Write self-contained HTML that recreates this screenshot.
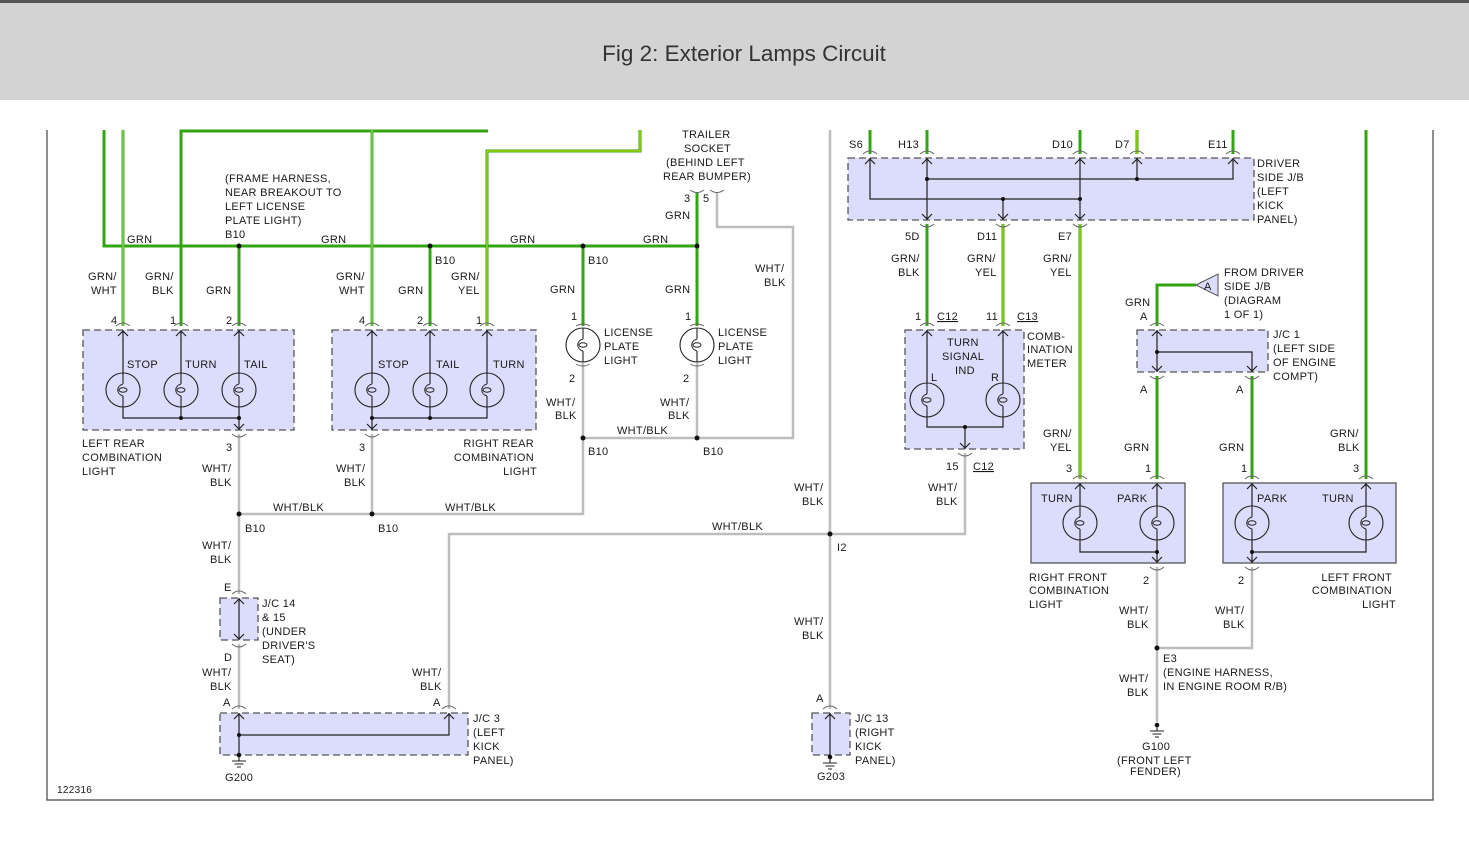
<!DOCTYPE html>
<html><head><meta charset="utf-8"><style>
html,body{margin:0;padding:0;background:#fff;width:1469px;height:849px;overflow:hidden}
svg{display:block}
text{font-family:"Liberation Sans",Arial,sans-serif;font-size:11px;fill:#1a1a1a;letter-spacing:0.3px}
.g{stroke:#33a514;stroke-width:3;fill:none}
.gw{stroke:#48b222;stroke-width:3;fill:none}
.y{stroke:#d8e800;stroke-width:1;fill:none}
.w{stroke:#bdbdbd;stroke-width:2.5;fill:none}
.bx{fill:#dcdcfc;stroke:#555;stroke-width:1.3;stroke-dasharray:7,4}
.bs{fill:#dcdcfc;stroke:#555;stroke-width:1.3}
.k{stroke:#222;stroke-width:1.2;fill:none}
.c{stroke:#666;stroke-width:1;fill:none}
</style></head><body>
<svg width="1469" height="849" viewBox="0 0 1469 849" xmlns="http://www.w3.org/2000/svg">
<defs>
<g id="bulb"><circle r="17" fill="none" stroke="#222" stroke-width="1.1"/><path d="M0,-17V-6M0,6V17" stroke="#222" stroke-width="1.1"/><path d="M0,-6 C-7,-4 -7,4 0,6" fill="none" stroke="#222"/><ellipse rx="4" ry="2.2" fill="none" stroke="#222"/></g>
<g id="ct"><path d="M-7,-4 Q0,-10 7,-4" class="c"/><path d="M-5,6 L0,1 L5,6" class="k"/></g>
<g id="cb"><path d="M-7,4 Q0,10 7,4" class="c"/><path d="M-5,-6 L0,-1 L5,-6" class="k"/></g>
<g id="gnd"><path d="M0,0V6M-7,6H7M-4.5,9H4.5M-2,12H2" stroke="#222" stroke-width="1.1"/><circle r="2.3" fill="#111"/></g>
</defs>
<rect x="0" y="0" width="1469" height="100" fill="#d3d3d3"/>
<rect x="0" y="0" width="1469" height="3" fill="#555"/>
<text x="744" y="61" text-anchor="middle" style="font-size:22.5px;fill:#333;letter-spacing:0">Fig 2: Exterior Lamps Circuit</text>
<path d="M47,130V800H1433V130" fill="none" stroke="#444" stroke-width="1.2"/>

<!-- boxes -->
<rect class="bx" x="83" y="330" width="211" height="100"/>
<rect class="bx" x="332" y="330" width="204" height="100"/>
<rect class="bx" x="848" y="158" width="406" height="62"/>
<rect class="bx" x="905" y="330" width="119" height="119"/>
<rect class="bx" x="1137" y="330" width="131" height="42"/>
<rect class="bs" x="1031" y="483" width="154" height="80"/>
<rect class="bs" x="1223" y="483" width="173" height="80"/>
<rect class="bx" x="220" y="598" width="38" height="42"/>
<rect class="bx" x="220" y="713" width="248" height="42"/>
<rect class="bx" x="812" y="713" width="38" height="42"/>

<!-- green wires -->
<path class="g" d="M104,130V246H697"/>
<path class="gw" d="M123,130V326"/><path d="M123,130V326" stroke="#bfeab0" stroke-width="0.6"/>
<path class="g" d="M181,326V131H488"/>
<path class="g" d="M239,246V326"/>
<path class="gw" d="M372,130V326"/><path d="M372,130V326" stroke="#bfeab0" stroke-width="0.6"/>
<path class="g" d="M430,246V326"/>
<path class="g" d="M640,130V151H487V326"/><path class="y" d="M640,130V151H487V326"/>
<path class="g" d="M583,246V326"/>
<path class="g" d="M697,192V326"/>
<path class="g" d="M870,130V154M927,130V154M1080,130V154M1137,130V154M1233,130V154"/>
<path class="y" d="M1137,130V154"/>
<path class="g" d="M927,224V326"/>
<path class="g" d="M1003,224V326"/><path class="y" d="M1003,224V326"/>
<path class="g" d="M1080,224V479"/><path class="y" d="M1080,224V479"/>
<path class="g" d="M1196,285H1157V326"/>
<path class="g" d="M1157,376V479M1252,376V479"/>
<path class="g" d="M1366,130V479"/>

<!-- gray wires -->
<path class="w" d="M717,192V227H793V438H583V363M697,363V438"/>
<path class="w" d="M583,438V514H239M239,434V594M372,434V514"/>
<path class="w" d="M239,644V709"/>
<path class="w" d="M449,709V534H830M830,130V709M830,534H965V453"/>
<path class="w" d="M1157,567V648H1252V567M1157,648V722"/>

<!-- splice dots -->
<g fill="#111">
<circle cx="239" cy="246" r="2.5"/><circle cx="430" cy="246" r="2.5"/><circle cx="583" cy="246" r="2.5"/><circle cx="697" cy="246" r="2.5"/>
<circle cx="583" cy="438" r="2.5"/><circle cx="697" cy="438" r="2.5"/>
<circle cx="239" cy="514" r="2.5"/><circle cx="372" cy="514" r="2.5"/>
<circle cx="830" cy="534" r="2.5"/><circle cx="1157" cy="648" r="2.5"/>
</g>

<!-- left rear internals -->
<path class="k" d="M123,330V373M181,330V373M239,330V373M123,407V418H239V430M181,407V418M239,407V418"/>
<use href="#bulb" x="123" y="390"/><use href="#bulb" x="181" y="390"/><use href="#bulb" x="239" y="390"/>
<circle cx="181" cy="418" r="2" fill="#111"/><circle cx="239" cy="418" r="2" fill="#111"/>
<use href="#ct" x="123" y="330"/><use href="#ct" x="181" y="330"/><use href="#ct" x="239" y="330"/><use href="#cb" x="239" y="430"/>
<!-- right rear -->
<path class="k" d="M372,330V373M430,330V373M487,330V373M372,407V430M430,407V418M487,407V418H372"/>
<use href="#bulb" x="372" y="390"/><use href="#bulb" x="430" y="390"/><use href="#bulb" x="487" y="390"/>
<circle cx="372" cy="418" r="2" fill="#111"/><circle cx="430" cy="418" r="2" fill="#111"/>
<use href="#ct" x="372" y="330"/><use href="#ct" x="430" y="330"/><use href="#ct" x="487" y="330"/><use href="#cb" x="372" y="430"/>
<!-- license -->
<use href="#bulb" x="583" y="345"/><use href="#bulb" x="697" y="345"/>
<path class="c" d="M576,326Q583,322 590,326M690,326Q697,322 704,326M576,364Q583,368 590,364M690,364Q697,368 704,364M690,190Q697,195 704,190M710,190Q717,195 724,190"/>
<!-- driver J/B -->
<path class="k" d="M870,158V199H1080M927,158V220M927,179H1233V158M1080,158V220M1003,199V220M1137,158V179"/>
<g fill="#111"><circle cx="927" cy="179" r="2"/><circle cx="1003" cy="199" r="2"/><circle cx="1080" cy="199" r="2"/><circle cx="1137" cy="179" r="2"/></g>
<use href="#ct" x="870" y="158"/><use href="#ct" x="927" y="158"/><use href="#ct" x="1080" y="158"/><use href="#ct" x="1137" y="158"/><use href="#ct" x="1233" y="158"/>
<use href="#cb" x="927" y="220"/><use href="#cb" x="1003" y="220"/><use href="#cb" x="1080" y="220"/>
<!-- comb meter -->
<path class="k" d="M927,330V383M1003,330V383M927,417V427H1003V417M965,427V449"/>
<use href="#bulb" x="927" y="400"/><use href="#bulb" x="1003" y="400"/>
<circle cx="965" cy="427" r="2" fill="#111"/>
<use href="#ct" x="927" y="330"/><use href="#ct" x="1003" y="330"/><use href="#cb" x="965" y="449"/>
<!-- J/C1 -->
<path class="k" d="M1157,330V372M1157,352H1252V372"/><circle cx="1157" cy="352" r="2" fill="#111"/>
<use href="#ct" x="1157" y="330"/><use href="#cb" x="1157" y="372"/><use href="#cb" x="1252" y="372"/>
<path d="M1196,285L1218,274V296Z" fill="#dcdcfc" stroke="#555"/>
<text x="1204" y="290">A</text>
<!-- right front -->
<path class="k" d="M1080,483V506M1157,483V506M1080,540V552H1157V563M1157,540V552"/>
<use href="#bulb" x="1080" y="523"/><use href="#bulb" x="1157" y="523"/><circle cx="1157" cy="552" r="2" fill="#111"/>
<use href="#ct" x="1080" y="483"/><use href="#ct" x="1157" y="483"/><use href="#cb" x="1157" y="563"/>
<!-- left front -->
<path class="k" d="M1252,483V506M1366,483V506M1252,540V563M1252,552H1366V540"/>
<use href="#bulb" x="1252" y="523"/><use href="#bulb" x="1366" y="523"/><circle cx="1252" cy="552" r="2" fill="#111"/>
<use href="#ct" x="1252" y="483"/><use href="#ct" x="1366" y="483"/><use href="#cb" x="1252" y="563"/>
<!-- JC14, JC3, JC13 -->
<path class="k" d="M239,598V640M239,713V755M239,735H449V713M830,713V755"/>
<circle cx="239" cy="735" r="2" fill="#111"/>
<use href="#ct" x="239" y="598"/><use href="#cb" x="239" y="640"/><use href="#ct" x="239" y="713"/><use href="#ct" x="449" y="713"/><use href="#ct" x="830" y="713"/>
<use href="#gnd" x="239" y="755"/><use href="#gnd" x="830" y="757"/><use href="#gnd" x="1157" y="725"/>

<!-- labels -->
<text x="127" y="243">GRN</text><text x="321" y="243">GRN</text><text x="510" y="243">GRN</text><text x="643" y="243">GRN</text>
<text x="225" y="182">(FRAME HARNESS,</text><text x="225" y="196">NEAR BREAKOUT TO</text><text x="225" y="210">LEFT LICENSE</text><text x="225" y="224">PLATE LIGHT)</text><text x="225" y="238">B10</text>
<text x="435" y="264">B10</text><text x="588" y="264">B10</text>
<text x="682" y="138">TRAILER</text><text x="684" y="152">SOCKET</text><text x="666" y="166">(BEHIND LEFT</text><text x="663" y="180">REAR BUMPER)</text>
<text x="684" y="202">3</text><text x="703" y="202">5</text><text x="665" y="219">GRN</text>
<text x="755" y="272">WHT/</text><text x="764" y="286">BLK</text>
<text x="88" y="280">GRN/</text><text x="91" y="294">WHT</text><text x="145" y="280">GRN/</text><text x="152" y="294">BLK</text><text x="206" y="294">GRN</text>
<text x="336" y="280">GRN/</text><text x="339" y="294">WHT</text><text x="398" y="294">GRN</text><text x="451" y="280">GRN/</text><text x="458" y="294">YEL</text>
<text x="550" y="293">GRN</text><text x="665" y="293">GRN</text>
<text x="111" y="324">4</text><text x="170" y="324">1</text><text x="226" y="324">2</text>
<text x="359" y="324">4</text><text x="417" y="324">2</text><text x="476" y="324">1</text>
<text x="571" y="320">1</text><text x="685" y="320">1</text><text x="569" y="382">2</text><text x="683" y="382">2</text>
<text x="127" y="368">STOP</text><text x="185" y="368">TURN</text><text x="244" y="368">TAIL</text>
<text x="378" y="368">STOP</text><text x="436" y="368">TAIL</text><text x="493" y="368">TURN</text>
<text x="604" y="336">LICENSE</text><text x="604" y="350">PLATE</text><text x="604" y="364">LIGHT</text>
<text x="718" y="336">LICENSE</text><text x="718" y="350">PLATE</text><text x="718" y="364">LIGHT</text>
<text x="82" y="447">LEFT REAR</text><text x="82" y="461">COMBINATION</text><text x="82" y="475">LIGHT</text>
<text x="534" y="447" text-anchor="end">RIGHT REAR</text><text x="534" y="461" text-anchor="end">COMBINATION</text><text x="537" y="475" text-anchor="end">LIGHT</text>
<text x="226" y="451">3</text><text x="359" y="451">3</text>
<text x="546" y="406">WHT/</text><text x="555" y="419">BLK</text><text x="660" y="406">WHT/</text><text x="668" y="419">BLK</text>
<text x="617" y="434">WHT/BLK</text><text x="588" y="455">B10</text><text x="703" y="455">B10</text>
<text x="202" y="472">WHT/</text><text x="210" y="486">BLK</text><text x="336" y="472">WHT/</text><text x="344" y="486">BLK</text>
<text x="273" y="511">WHT/BLK</text><text x="445" y="511">WHT/BLK</text>
<text x="245" y="532">B10</text><text x="378" y="532">B10</text>
<text x="202" y="549">WHT/</text><text x="210" y="563">BLK</text>
<text x="224" y="591">E</text><text x="224" y="661">D</text>
<text x="262" y="607">J/C 14</text><text x="262" y="621">&amp; 15</text><text x="262" y="635">(UNDER</text><text x="262" y="649">DRIVER'S</text><text x="262" y="663">SEAT)</text>
<text x="202" y="676">WHT/</text><text x="210" y="690">BLK</text><text x="412" y="676">WHT/</text><text x="420" y="690">BLK</text>
<text x="223" y="706">A</text><text x="433" y="706">A</text>
<text x="473" y="722">J/C 3</text><text x="473" y="736">(LEFT</text><text x="473" y="750">KICK</text><text x="473" y="764">PANEL)</text>
<text x="225" y="781">G200</text><text x="57" y="793" style="font-size:10px">122316</text>
<text x="712" y="530">WHT/BLK</text><text x="837" y="551">I2</text>
<text x="794" y="491">WHT/</text><text x="802" y="505">BLK</text><text x="794" y="625">WHT/</text><text x="802" y="639">BLK</text>
<text x="816" y="702">A</text>
<text x="855" y="722">J/C 13</text><text x="855" y="736">(RIGHT</text><text x="855" y="750">KICK</text><text x="855" y="764">PANEL)</text>
<text x="817" y="780">G203</text>
<text x="849" y="148">S6</text><text x="898" y="148">H13</text><text x="1052" y="148">D10</text><text x="1115" y="148">D7</text><text x="1208" y="148">E11</text>
<text x="1257" y="167">DRIVER</text><text x="1257" y="181">SIDE J/B</text><text x="1257" y="195">(LEFT</text><text x="1257" y="209">KICK</text><text x="1257" y="223">PANEL)</text>
<text x="905" y="240">5D</text><text x="977" y="240">D11</text><text x="1058" y="240">E7</text>
<text x="891" y="262">GRN/</text><text x="898" y="276">BLK</text><text x="967" y="262">GRN/</text><text x="975" y="276">YEL</text><text x="1043" y="262">GRN/</text><text x="1050" y="276">YEL</text>
<text x="1224" y="276">FROM DRIVER</text><text x="1224" y="290">SIDE J/B</text><text x="1224" y="304">(DIAGRAM</text><text x="1224" y="318">1 OF 1)</text>
<text x="1125" y="306">GRN</text><text x="1140" y="320">A</text>
<text x="915" y="320">1</text><text x="937" y="320" text-decoration="underline">C12</text><text x="986" y="320">11</text><text x="1017" y="320" text-decoration="underline">C13</text>
<text x="1027" y="340">COMB-</text><text x="1027" y="353">INATION</text><text x="1027" y="367">METER</text>
<text x="947" y="346">TURN</text><text x="942" y="360">SIGNAL</text><text x="955" y="374">IND</text>
<text x="931" y="381">L</text><text x="991" y="381">R</text>
<text x="1273" y="338">J/C 1</text><text x="1273" y="352">(LEFT SIDE</text><text x="1273" y="366">OF ENGINE</text><text x="1273" y="380">COMPT)</text>
<text x="1140" y="393">A</text><text x="1236" y="393">A</text>
<text x="946" y="470">15</text><text x="973" y="470" text-decoration="underline">C12</text>
<text x="928" y="491">WHT/</text><text x="936" y="505">BLK</text>
<text x="1043" y="437">GRN/</text><text x="1050" y="451">YEL</text><text x="1124" y="451">GRN</text><text x="1219" y="451">GRN</text>
<text x="1330" y="437">GRN/</text><text x="1338" y="451">BLK</text>
<text x="1066" y="472">3</text><text x="1145" y="472">1</text><text x="1241" y="472">1</text><text x="1353" y="472">3</text>
<text x="1041" y="502">TURN</text><text x="1117" y="502">PARK</text><text x="1257" y="502">PARK</text><text x="1322" y="502">TURN</text>
<text x="1029" y="581">RIGHT FRONT</text><text x="1029" y="594">COMBINATION</text><text x="1029" y="608">LIGHT</text>
<text x="1392" y="581" text-anchor="end">LEFT FRONT</text><text x="1392" y="594" text-anchor="end">COMBINATION</text><text x="1396" y="608" text-anchor="end">LIGHT</text>
<text x="1143" y="584">2</text><text x="1238" y="584">2</text>
<text x="1119" y="614">WHT/</text><text x="1127" y="628">BLK</text><text x="1215" y="614">WHT/</text><text x="1223" y="628">BLK</text>
<text x="1163" y="662">E3</text><text x="1163" y="676">(ENGINE HARNESS,</text><text x="1163" y="690">IN ENGINE ROOM R/B)</text>
<text x="1119" y="682">WHT/</text><text x="1127" y="696">BLK</text>
<text x="1142" y="750">G100</text><text x="1117" y="764">(FRONT LEFT</text><text x="1130" y="775">FENDER)</text>
</svg>
</body></html>
